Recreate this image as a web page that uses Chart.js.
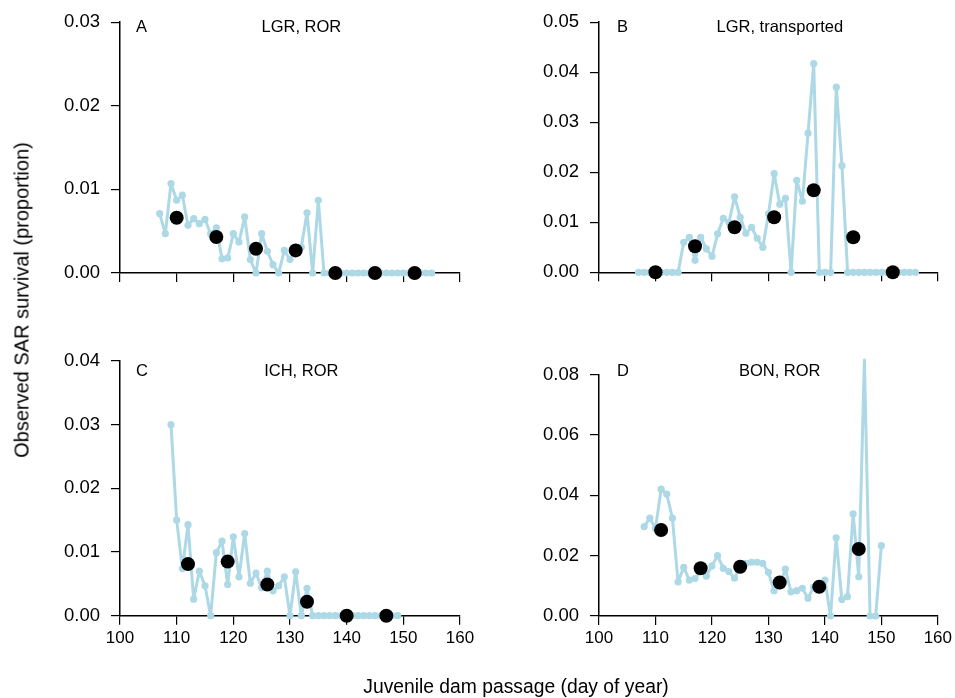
<!DOCTYPE html>
<html>
<head>
<meta charset="utf-8">
<script src="https://cdn.jsdelivr.net/npm/chart.js@4.4.1/dist/chart.umd.min.js"></script>
<style>
  body { margin: 0; width: 955px; height: 698px; background: #fff; position: relative; overflow: hidden; font-family: 'Liberation Sans', Arial, sans-serif; color: #000; }
  canvas { position: absolute; left: 0; top: 0; }
  #ytitle { position: absolute; left: 22px; top: 300px; transform: translate(-50%, -50%) rotate(-90deg); white-space: nowrap; font-size: 20px; }
  #xtitle { position: absolute; left: 516px; top: 687px; transform: translate(-50%, -50%); white-space: nowrap; font-size: 19.3px; }
</style>
</head>
<body>
<canvas id="chartA" width="955" height="698"></canvas>
<canvas id="chartB" width="955" height="698"></canvas>
<canvas id="chartC" width="955" height="698"></canvas>
<canvas id="chartD" width="955" height="698"></canvas>
<div id="ytitle">Observed SAR survival (proportion)</div>
<div id="xtitle">Juvenile dam passage (day of year)</div>
<script>
// A - LGR, ROR
const daysA = [107,108,109,110,111,112,113,114,115,116,117,118,119,120,121,122,123,124,125,126,127,128,129,130,131,132,133,134,135,136,137,138,139,140,141,142,143,144,145,146,147,148,149,150,151,152,153,154,155]
const sarA = [0.0071,0.0047,0.0107,0.0087,0.0093,0.0057,0.0065,0.0059,0.0064,0.0047,0.0054,0.0017,0.0018,0.0047,0.0037,0.0067,0.0016,0,0.0047,0.0026,0.0010,0,0.0027,0.0016,0.0026,0.0031,0.0072,0,0.0087,0,0,0,0,0,0,0,0,0,0,0,0,0,0,0,0,0,0,0,0]
const meanDaysA = [110,117,124,131,138,145,152]
const meanA = [0.0066,0.0043,0.0029,0.0027,0,0,0]

// B - LGR, transported
const daysB = [107,108,109,110,111,112,113,114,115,116,117,118,119,120,121,122,123,124,125,126,127,128,129,130,131,132,133,134,135,136,137,138,139,140,141,142,143,144,145,146,147,148,149,150,151,152,153,154,155,156]
const sarB = [0,0,0,0,0,0,0,0,0.0060,0.0070,0.0024,0.0070,0.0047,0.0032,0.0077,0.0108,0.0100,0.0151,0.0110,0.0078,0.0090,0.0068,0.0050,0.0117,0.0197,0.0136,0.0148,0,0.0184,0.0142,0.0278,0.0417,0,0,0,0.0370,0.0213,0,0,0,0,0,0,0,0,0,0,0,0,0]
const meanDaysB = [110,117,124,131,138,145,152]
const meanB = [0,0.0052,0.0090,0.0110,0.0164,0.0070,0]

// C - ICH, ROR
const daysC = [109,110,111,112,113,114,115,116,117,118,119,120,121,122,123,124,125,126,127,128,129,130,131,132,133,134,135,136,137,138,139,140,141,142,143,144,145,146,147,148,149]
const sarC = [0.0300,0.0150,0.0074,0.0143,0.0026,0.0070,0.0047,0,0.0099,0.0117,0.0049,0.0124,0.0061,0.0129,0.0051,0.0067,0.0044,0.0070,0.0039,0.0047,0.0061,0,0.0069,0,0.0043,0,0,0,0,0,0,0,0,0,0,0,0,0,0,0,0]
const meanDaysC = [112,119,126,133,140,147]
const meanC = [0.0081,0.0085,0.0049,0.0022,0,0]

// D - BON, ROR
const daysD = [108,109,110,111,112,113,114,115,116,117,118,119,120,121,122,123,124,125,126,127,128,129,130,131,132,133,134,135,136,137,138,139,140,141,142,143,144,145,146,147,148,149,150]
const sarD = [0.0296,0.0324,0.0290,0.0420,0.0404,0.0324,0.0113,0.0161,0.0119,0.0124,0.0150,0.0132,0.0166,0.0200,0.0158,0.0147,0.0125,0.0165,0.0174,0.0178,0.0178,0.0174,0.0145,0.0084,0.0100,0.0155,0.0080,0.0084,0.0092,0.0059,0.0095,0.0097,0.0119,0,0.0259,0.0055,0.0064,0.0338,0.0130,0.0848,0,0,0.0233]
const meanDaysD = [111,118,125,132,139,146]
const meanD = [0.0285,0.0158,0.0163,0.0111,0.0097,0.0222]

const xTicks = [100, 110, 120, 130, 140, 150, 160]

const panelText = {
  id: 'panelText',
  afterDraw(chart, args, opts) {
    const ctx = chart.ctx
    ctx.save()
    ctx.font = '16.5px "Liberation Sans", Arial, sans-serif'
    ctx.fillStyle = '#000'
    ctx.textBaseline = 'middle'
    ctx.textAlign = 'left'
    ctx.fillText(opts.letter, opts.lx, opts.ly)
    ctx.textAlign = 'center'
    ctx.fillText(opts.title, chart.scales.x.getPixelForValue(132), opts.ly)
    ctx.restore()
  }
}

const axisStyle = {
  grid: { drawOnChartArea: false, drawTicks: true, tickLength: 9, color: '#000', lineWidth: 1.2 },
  border: { display: true, color: '#000', width: 1.5 }
}

const makePanel = (id, days, vals, meanDays, means, yMax, yStep, box, xH, showX, letter, title, lx, ly) => {
  const ctx = document.getElementById(id).getContext('2d')
  return new Chart(ctx, {
    type: 'scatter',
    data: {
      datasets: [
        {
          data: meanDays.map((d, i) => ({ x: d, y: means[i] })),
          backgroundColor: '#000',
          borderColor: '#000',
          borderWidth: 0,
          pointRadius: 7,
          clip: false,
          order: 0
        },
        {
          data: days.map((d, i) => ({ x: d, y: vals[i] })),
          showLine: true,
          borderColor: '#add8e6',
          backgroundColor: '#add8e6',
          borderWidth: 3,
          borderJoinStyle: 'round',
          borderCapStyle: 'round',
          pointRadius: 3.6,
          pointBorderWidth: 0,
          clip: false,
          order: 1
        }
      ]
    },
    options: {
      responsive: false,
      animation: false,
      events: [],
      layout: { padding: { left: 0, right: 955 - box.right, top: box.top, bottom: 698 - box.bottom - xH } },
      plugins: {
        legend: { display: false },
        tooltip: { enabled: false },
        panelText: { letter, title, lx, ly }
      },
      scales: {
        x: {
          type: 'linear',
          min: 100,
          max: 160,
          afterBuildTicks: s => { s.ticks = xTicks.map(v => ({ value: v })) },
          afterFit: s => { s.height = xH },
          ticks: { display: showX, color: '#000', padding: 3, font: { size: 17 } },
          ...axisStyle
        },
        y: {
          type: 'linear',
          min: 0,
          max: yMax,
          afterBuildTicks: s => {
            let t = []
            for (let v = 0; v <= yMax + 1e-9; v += yStep) t.push({ value: Math.round(v * 1000) / 1000 })
            s.ticks = t
          },
          afterFit: s => { s.width = box.left },
          ticks: { color: '#000', padding: 11, font: { size: 18.5 }, callback: v => v.toFixed(2) },
          ...axisStyle
        }
      }
    },
    plugins: [panelText]
  })
}

Chart.defaults.font.family = '"Liberation Sans", Arial, sans-serif'

makePanel('chartA', daysA, sarA, meanDaysA, meanA, 0.03, 0.01, { left: 120, right: 460, top: 18, bottom: 273 }, 27, false, 'A', 'LGR, ROR', 136, 27)
makePanel('chartB', daysB, sarB, meanDaysB, meanB, 0.05, 0.01, { left: 599, right: 938, top: 18.5, bottom: 272.3 }, 27, false, 'B', 'LGR, transported', 617, 27)
makePanel('chartC', daysC, sarC, meanDaysC, meanC, 0.04, 0.01, { left: 120, right: 460, top: 361, bottom: 615.7 }, 40, true, 'C', 'ICH, ROR', 136, 371)
makePanel('chartD', daysD, sarD, meanDaysD, meanD, 0.08, 0.02, { left: 599, right: 938, top: 374.5, bottom: 616 }, 40, true, 'D', 'BON, ROR', 617, 371)
</script>
</body>
</html>
